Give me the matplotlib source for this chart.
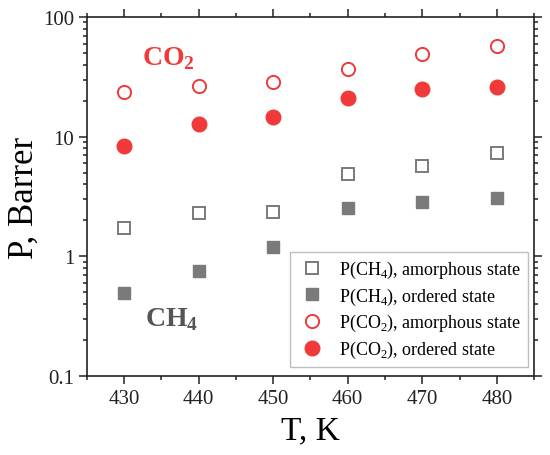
import numpy as np
import matplotlib
matplotlib.use('Agg')
import matplotlib.pyplot as plt
from matplotlib.ticker import LogLocator, MultipleLocator, FixedLocator, FixedFormatter

plt.rcParams['font.family'] = ['Liberation Serif', 'DejaVu Serif']
plt.rcParams['mathtext.fontset'] = 'custom'
plt.rcParams['mathtext.rm'] = 'Liberation Serif'

# Data
T = [430, 440, 450, 460, 470, 480]
ch4_amorphous = [1.73, 2.29, 2.35, 4.9, 5.7, 7.3]
ch4_ordered = [0.49, 0.76, 1.19, 2.52, 2.85, 3.06]
co2_amorphous = [23.7, 26.6, 28.8, 37.0, 49.3, 57.6]
co2_ordered = [8.3, 12.8, 14.6, 21.2, 25.1, 25.8]

labels = [r'P(CH$_\mathregular{4}$), amorphous state',
          r'P(CH$_\mathregular{4}$), ordered state',
          r'P(CO$_\mathregular{2}$), amorphous state',
          r'P(CO$_\mathregular{2}$), ordered state']

red = '#f03a3a'
gray = '#7a7a7a'

fig = plt.figure(figsize=(5.5, 4.56), dpi=100)
ax = fig.add_axes([0.158, 0.173, 0.813, 0.7875])

ax.plot(T, ch4_amorphous, 's', ms=8.5, mfc='white', mec=gray, mew=1.4, label=labels[0])
ax.plot(T, ch4_ordered, 's', ms=9, mfc=gray, mec=gray, mew=1.0, label=labels[1])
ax.plot(T, co2_amorphous, 'o', ms=9.5, mfc='white', mec=red, mew=1.4, label=labels[2])
ax.plot(T, co2_ordered, 'o', ms=10.5, mfc=red, mec=red, mew=1.0, label=labels[3])

ax.set_yscale('log')
ax.set_xlim(425, 485)
ax.set_ylim(0.1, 100)

ax.xaxis.set_major_locator(MultipleLocator(10))
ax.xaxis.set_minor_locator(MultipleLocator(5))
ax.yaxis.set_major_locator(FixedLocator([0.1, 1, 10, 100]))
ax.yaxis.set_major_formatter(FixedFormatter(['0.1', '1', '10', '100']))
ax.yaxis.set_minor_locator(LogLocator(base=10, subs=np.arange(2, 10)))
ax.yaxis.set_minor_formatter(plt.NullFormatter())

ax.tick_params(which='both', direction='out', top=True, right=True, width=1.1,
               labelsize=15, colors='#222222')
ax.tick_params(which='major', length=5.5)
ax.tick_params(which='minor', length=3)
for s in ax.spines.values():
    s.set_linewidth(1.2)
    s.set_color('#222222')

ax.set_xlabel('T, K', fontsize=24, labelpad=5)
ax.set_ylabel('P, Barrer', fontsize=25, labelpad=2)

ax.text(436.0, 46, r'CO$_\mathregular{2}$', color=red, fontsize=20, fontweight='bold',
        ha='center', va='center')
ax.text(436.4, 0.30, r'CH$_\mathregular{4}$', color='#555555', fontsize=20, fontweight='bold',
        ha='center', va='center')

leg = ax.legend(loc='lower right', numpoints=1, fontsize=13, frameon=True, fancybox=False,
                edgecolor='#b0b0b0', borderpad=0.4, labelspacing=0.3, handletextpad=0.7,
                handlelength=1.6, borderaxespad=0, bbox_to_anchor=(0.987, 0.025))
leg.get_frame().set_linewidth(1.0)

fig.savefig('out.png', dpi=100)
